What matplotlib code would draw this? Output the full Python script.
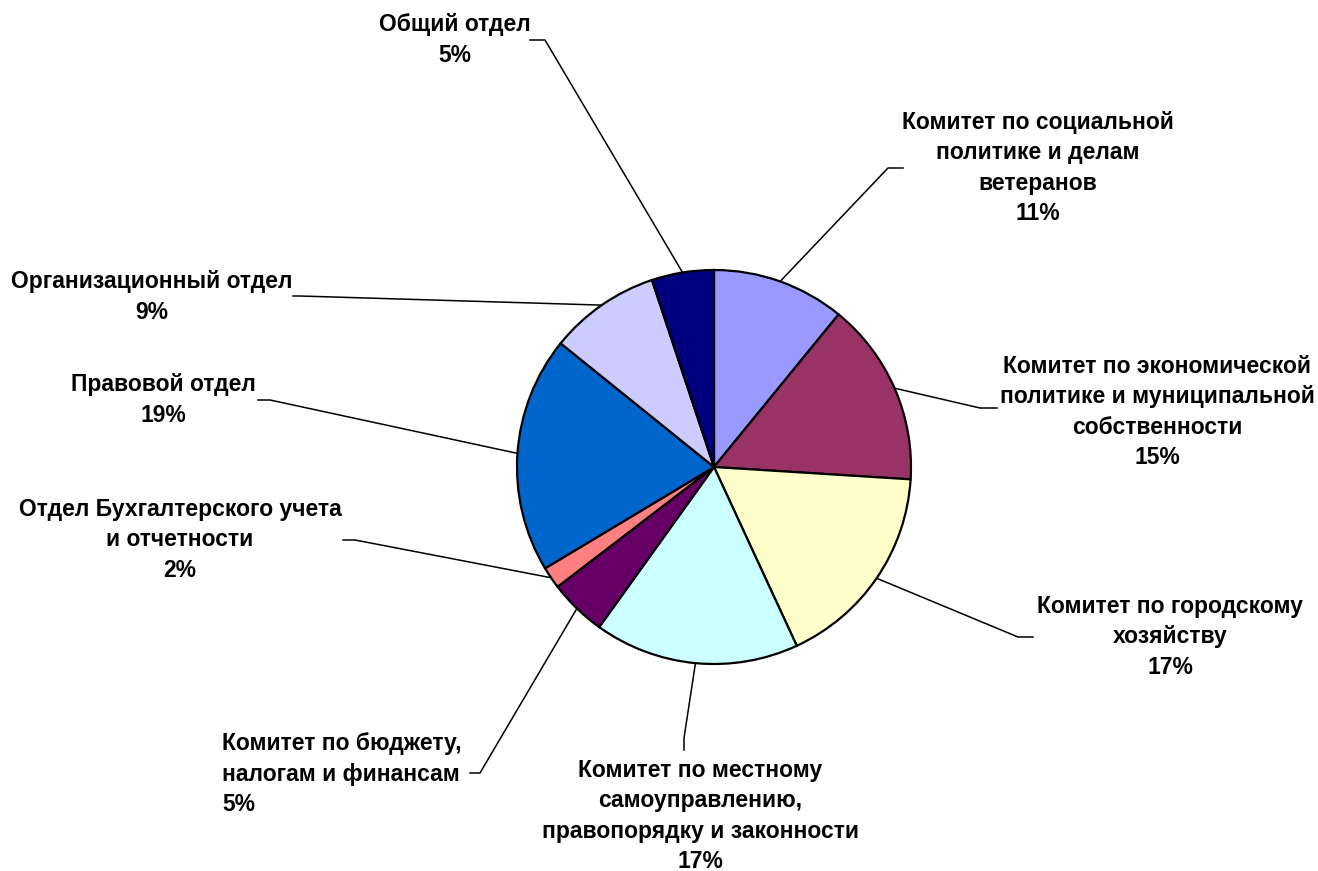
import numpy as np
import matplotlib.pyplot as plt

# данные
names = [
    'Комитет по социальной\nполитике и делам\nветеранов',
    'Комитет по экономической\nполитике и муниципальной\nсобственности',
    'Комитет по городскому\nхозяйству',
    'Комитет по местному\nсамоуправлению,\nправопорядку и законности',
    'Комитет по бюджету,\nналогам и финансам',
    'Отдел Бухгалтерского учета\nи отчетности',
    'Правовой отдел',
    'Организационный отдел',
    'Общий отдел',
]
shares = [10.9, 15.1, 17.1, 16.8, 4.7, 1.8, 19.4, 9.1, 5.1]
colors = ['#9999FF', '#993366', '#FFFFCC', '#CCFFFF', '#660066',
          '#FF8080', '#0066CC', '#CCCCFF', '#000080']

W, H = 1318, 871
cx, cy, R = 714, 467, 197

# положение подписей (пиксели): центр текста, излом выноски, конец выноски, выравнивание
label_pos = [
    ((1038, 168), (888, 168), (903, 168), 'center'),
    ((1157, 412), (980, 408), (997, 408), 'center'),
    ((1170, 637), (1018, 637), (1033, 637), 'center'),
    ((700, 816), (684, 738), (684, 750), 'center'),
    ((222, 774), (480, 773), (470, 773), 'left'),
    ((180, 540), (355, 540), (343, 540), 'center'),
    ((163, 400), (270, 400), (258, 400), 'center'),
    ((152, 297), (300, 296), (293, 296), 'center'),
    ((455, 40), (545, 40), (530, 40), 'center'),
]

plt.rcParams['font.family'] = ['Liberation Sans', 'DejaVu Sans']

fig = plt.figure(figsize=(W / 100, H / 100), dpi=100)
ax = fig.add_axes([0, 0, 1, 1])

def py(y):
    return H - y

ax.pie(shares, colors=colors, startangle=90, counterclock=False,
       center=(cx, py(cy)), radius=R,
       wedgeprops=dict(edgecolor='black', linewidth=1.6))

total = sum(shares)
cum = np.cumsum([0] + shares)
for i, (name, v) in enumerate(zip(names, shares)):
    mid = (cum[i] + v / 2) / total * 2 * np.pi
    ax_x = cx + R * np.sin(mid)
    ax_y = cy - R * np.cos(mid)
    (tx, ty), (ex, ey), (lx, ly), ha = label_pos[i]
    ax.plot([ax_x, ex, lx], [py(ax_y), py(ey), py(ly)], color='black', lw=1.1)
    ax.text(tx, py(ty), f'{name}\n{v / total * 100:.0f}%', ha=ha, va='center',
            multialignment=ha, fontsize=16.5, fontweight='bold', linespacing=1.42)

ax.set_xlim(0, W)
ax.set_ylim(0, H)
ax.set_aspect('equal')
ax.axis('off')

fig.savefig('out.png', dpi=100)
